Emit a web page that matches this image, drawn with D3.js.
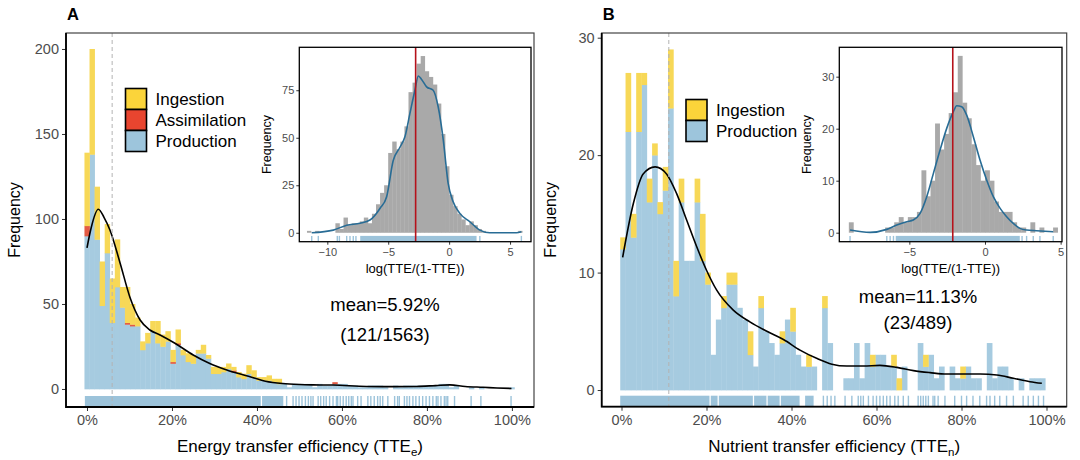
<!DOCTYPE html>
<html>
<head>
<meta charset="utf-8">
<script src="https://cdn.jsdelivr.net/npm/d3@7"></script>
<style>
  body { margin: 0; background: #fff; }
  svg text { font-family: 'Liberation Sans', Arial, sans-serif; }
</style>
</head>
<body>
<svg id="chart" width="1080" height="460"></svg>
<script>
// ---------- panel A : energy transfer efficiency (%) ----------
const binWidthA = 100 / 84
const prodA = [90, 138, 88, 49, 80, 39, 60, 48, 38, 37, 37, 23, 27, 34, 27, 25, 28, 15, 26, 20,
  16, 15, 21, 21, 18, 9, 9, 10, 12, 10, 7, 6, 9, 7, 5, 5, 5, 4, 3, 3,
  1, 3, 3, 3, 3, 1, 3, 2, 2, 3, 3, 3, 2, 2, 1, 1, 2, 2, 2, 1,
  0, 2, 1, 2, 2, 2, 2, 2, 2, 2, 3, 3, 1, 2, 0, 0, 1, 0, 1, 0,
  0, 0, 0, 0, 1]
const asmA = [6, 0, 0, 0, 0, 0, 0, 0, 1, 1, 0, 0, 0, 0, 0, 0, 0, 1, 1, 0,
  0, 0, 0, 0, 0, 0, 0, 0, 0, 1, 0, 0, 0, 0, 0, 0, 0, 0, 0, 0,
  0, 0, 0, 0, 0, 0, 0, 0, 0, 1]
const ingA = [43, 62, 31, 26, 17, 26, 28, 12, 21, 12, 5, 5, 6, 6, 13, 7, 6, 7, 8, 3,
  5, 5, 2, 5, 2, 4, 4, 3, 3, 2, 3, 3, 5, 4, 2, 2, 3, 2, 3]
const densXA = [0, 1, 2.66, 4, 5.4, 7.8, 10.1, 12.5, 14.8, 17.2, 20.7, 25, 28.9, 32.9, 38, 42,
  46, 50, 53.3, 57.9, 65.8, 72, 77.6, 82, 85.4, 89, 93.2, 96.5, 99.9]
const densYA = [83, 95, 105.7, 101, 93.5, 74, 54, 40.6, 34.7, 31.8, 26.9, 20, 15, 11.2, 7.5, 4.6,
  3.2, 2.6, 2.4, 2.3, 1.5, 1.4, 1.5, 2.0, 2.4, 1.5, 1.0, 0.6, 0.3]
const rugBlocksA = [[-0.5, 40.9], [41.2, 46.2]]
const rugA = [46.98, 48.5, 49.2, 49.9, 50.6, 51.4, 52.1, 52.7, 53.2, 54.4, 55.0, 55.7, 56.3, 57.1,
  57.9, 58.7, 59.0, 59.6, 60.3, 61.0, 61.6, 62.2, 62.6, 63.7, 64.5, 66.1, 66.8, 67.6, 68.4, 69.0,
  69.6, 70.8, 72.4, 73.1, 73.5, 74.7, 75.3, 75.9, 76.7, 77.4, 78.2, 79.0, 79.8, 80.6, 81.4, 82.2,
  82.6, 83.3, 84.1, 84.5, 84.9, 86.5, 90.4, 92.7, 99.8]
const meanA = 5.92
const labelA = ['mean=5.92%', '(121/1563)']

// inset A : logit of TTE
const insetStartA = -11.67
const insetWidthA = 1 / 3
const insetCountsA = [1, 0, 1, 0, 0, 0, 0, 5, 2, 8, 4, 5, 5, 6, 8, 5, 10, 15, 21, 25, 42, 48, 44,
  48, 56, 74, 79, 89, 93, 85, 82, 78, 68, 52, 35, 20, 14, 10, 7, 4, 6, 4, 2, 1, 0, 0, 0, 0, 0, 0,
  0, 0, 1]
const insetDensXA = [-11.28, -9.51, -8.41, -7.32, -6.5, -5.68, -5.13, -4.59, -4.04, -3.63, -3.22,
  -2.81, -2.53, -2.26, -1.85, -1.31, -0.9, -0.48, -0.08, 0.33, 0.88, 1.7, 2.52, 3.34, 5.52, 5.93]
const insetDensYA = [0, 1.4, 4, 5, 6.7, 12.8, 19, 38, 45, 50.5, 62.8, 75, 82.5, 80.7, 76.8, 75,
  66.3, 48.8, 26, 16.3, 10.2, 5.8, 1.4, 0, 0, 0.5]
const insetRugBlocksA = [[-7.3, 2.25]]
const insetRugA = [-11.28, -10.74, -9.18, -9.01, -8.41, -8.14, -7.87, -7.65, 2.52, 5.93]
const insetMeanA = -2.75

// ---------- panel B : nutrient transfer efficiency (%) ----------
const binWidthB = 1.25
const binStartB = -0.3
const prodB = [12, 22, 13, 22, 26, 16, 20, 15, 17, 24, 8, 16, 11, 11, 16, 11, 9, 3, 6, 7,
  9, 9, 7, 6, 3, 2, 7, 5, 4, 3, 4, 6, 5, 3, 2, 2, 2, 0, 7, 4,
  0, 0, 1, 1, 4, 1, 4, 2, 3, 3, 2, 2, 0, 2, 0, 0, 4, 2, 3, 1,
  2, 0, 2, 1, 1, 2, 1, 1, 0, 4, 1, 2, 2, 1, 0, 1, 0, 1, 1, 1]
const ingB = [1, 5, 2, 5, 1, 2, 1, 1, 2, 5, 3, 2, 0, 0, 2, 4, 1, 0, 0, 1,
  1, 1, 0, 0, 2, 0, 1, 0, 0, 0, 1, 0, 2, 0, 0, 1, 0, 0, 1, 0,
  0, 0, 0, 0, 0, 0, 0, 1, 0, 0, 0, 1, 1, 0, 0, 0, 0, 1, 0, 0,
  0, 0, 0, 0, 1]
const densXB = [0.27, 2.8, 5.1, 7.9, 10.6, 13, 15.3, 17.7, 20, 22.4, 26.3, 30.2, 34.2, 38.1, 42,
  45.9, 49.5, 53, 56.9, 60.8, 64.8, 68.7, 72.6, 76.5, 80.4, 84.4, 88.3, 92.2, 96.1, 98.9]
const densYB = [11.3, 15.9, 18.4, 19.0, 18.4, 16.7, 14.5, 12.2, 10.2, 8.5, 6.8, 5.8, 5.0, 4.3, 3.4,
  2.7, 2.2, 2.04, 2.04, 2.1, 1.93, 1.65, 1.48, 1.36, 1.36, 1.36, 1.28, 1.0, 0.71, 0.57]
const rugBlocksB = [[-0.3, 20.7], [21.0, 22.6], [22.9, 30.9], [31.2, 34.1], [34.4, 37.2],
  [37.5, 41.9], [43.2, 45.2]]
const rugB = [47.5, 48.4, 49.3, 50.2, 52.6, 54.2, 55.7, 56.3, 56.9, 58.1, 59.2, 60.0, 60.8, 61.6,
  62.4, 63.2, 64.3, 65.1, 66.3, 67.5, 69.8, 70.4, 71.0, 71.6, 72.2, 73.3, 73.7, 74.5, 76.1, 78.4,
  80.0, 81.2, 82.7, 84.3, 85.9, 86.7, 87.8, 89.0, 90.6, 92.2, 94.5, 95.7, 96.9, 98.1, 99.3]
const meanB = 11.13
const labelB = ['mean=11.13%', '(23/489)']

// inset B
const insetStartB = -9.6
const insetWidthB = 0.3
const insetCountsB = [0, 0, 2, 0, 0, 0, 0, 0, 0, 0, 1, 1, 2, 3, 2, 3, 3, 4, 12, 7, 10, 21, 16,
  19, 23, 27, 34, 25, 22, 17, 13, 10, 12, 10, 6, 4, 4, 4, 2, 1, 1, 0, 2, 0, 1, 0, 0, 1]
const insetDensXB = [-8.92, -7.6, -6.49, -5.83, -5.17, -4.74, -4.29, -3.85, -3.41, -2.97, -2.53,
  -2.09, -1.87, -1.54, -1.21, -0.77, -0.33, 0.11, 0.55, 1.0, 1.43, 1.87, 2.31, 2.75, 3.41, 4.51]
const insetDensYB = [0.51, 0.06, 0.64, 1.47, 2.12, 2.44, 3.72, 6.92, 11.41, 15.9, 20.06, 23.27,
  24.42, 24.23, 22.6, 18.46, 13.97, 10.13, 6.92, 4.68, 3.08, 1.79, 0.83, 0.51, 0.38, 0.19]
const insetRugBlocksB = [[-5.9, 2.3]]
const insetRugB = [-8.92, -6.49, -6.27, -6.05, 2.45, 2.75, 3.19, 3.63, 4.51]
const insetMeanB = -2.13

const xTicksMain = [0, 20, 40, 60, 80, 100]
const colors = { Production: '#a6cbe0', Assimilation: '#e25a44', Ingestion: '#f7d857' }
const keyColors = { Production: '#9dc5dc', Assimilation: '#e8452f', Ingestion: '#fbd43a' }
const rugColor = '#9cc3da'
const overlap = 0.35 // hides the anti-aliased seams between neighbouring bars
const svg = d3.select('#chart')

/**
 * Draws the rug (dense stretches as blocks, sparse values as single ticks).
 */
function drawRug (g, x, bottom, len, blocks, ticks) {
  g.append('g').selectAll('rect')
    .data(blocks)
    .enter()
    .append('rect')
    .attr('x', d => x(d[0]))
    .attr('width', d => x(d[1]) - x(d[0]))
    .attr('y', bottom - len)
    .attr('height', len)
    .attr('fill', rugColor)
  g.append('g').selectAll('line')
    .data(ticks)
    .enter()
    .append('line')
    .attr('x1', d => x(d))
    .attr('x2', d => x(d))
    .attr('y1', bottom - len)
    .attr('y2', bottom)
    .attr('stroke', rugColor)
    .attr('stroke-width', 1.4)
}

/**
 * Main stacked histogram panel.
 */
function drawMain (cfg) {
  const b = cfg.box
  const g = svg.append('g')
  const x = d3.scaleLinear().domain(cfg.xDomain).range([b.left, b.right])
  const y = d3.scaleLinear().domain(cfg.yDomain).range([b.bottom, b.top])

  const rows = cfg.prod.map((p, i) => {
    const r = { i: i, Production: p, Ingestion: cfg.ing[i] || 0 }
    if (cfg.asm) r.Assimilation = cfg.asm[i] || 0
    return r
  })
  const layers = d3.stack().keys(cfg.keys)(rows)
  const left = i => cfg.binStart + i * cfg.binWidth

  g.selectAll('.layer')
    .data(layers)
    .enter()
    .append('g')
    .attr('fill', d => colors[d.key])
    .selectAll('rect')
    .data(d => d.filter(s => s[1] > s[0]))
    .enter()
    .append('rect')
    .attr('x', d => x(left(d.data.i)))
    .attr('width', d => x(left(d.data.i) + cfg.binWidth) - x(left(d.data.i)) + overlap)
    .attr('y', d => y(d[1]))
    .attr('height', d => y(d[0]) - y(d[1]) + overlap)

  // density curve
  const line = d3.line().curve(d3.curveMonotoneX)
    .x(d => x(d[0])).y(d => y(d[1]))
  g.append('path')
    .datum(d3.zip(cfg.densX, cfg.densY))
    .attr('d', line)
    .attr('fill', 'none')
    .attr('stroke', '#000')
    .attr('stroke-width', 1.6)

  drawRug(g, x, b.bottom, 11, cfg.rugBlocks, cfg.rug)

  // mean
  g.append('line')
    .attr('x1', x(cfg.mean)).attr('x2', x(cfg.mean))
    .attr('y1', b.top).attr('y2', b.bottom)
    .attr('stroke', '#b3b3b3')
    .attr('stroke-width', 1)
    .attr('stroke-dasharray', '4,3')

  // axes
  g.append('g')
    .attr('transform', `translate(${b.left},0)`)
    .call(d3.axisLeft(y).tickValues(cfg.yTicks).tickSize(4).tickPadding(3))
    .call(a => a.select('.domain').remove())
    .call(a => a.selectAll('text').attr('fill', '#4d4d4d').style('font-size', '14.5px'))
    .call(a => a.selectAll('line').attr('stroke', '#333'))
  g.append('g')
    .attr('transform', `translate(0,${b.bottom})`)
    .call(d3.axisBottom(x).tickValues(xTicksMain).tickSize(4).tickPadding(4).tickFormat(d => d + '%'))
    .call(a => a.select('.domain').remove())
    .call(a => a.selectAll('text').attr('fill', '#4d4d4d').style('font-size', '14.5px'))
    .call(a => a.selectAll('line').attr('stroke', '#333'))

  g.append('rect')
    .attr('x', b.left).attr('y', b.top)
    .attr('width', b.right - b.left).attr('height', b.bottom - b.top)
    .attr('fill', 'none').attr('stroke', '#444').attr('stroke-width', 1.2)
  g.append('path')
    .attr('d', `M${b.left},${b.top}V${b.bottom}H${b.right}`)
    .attr('fill', 'none').attr('stroke', '#000').attr('stroke-width', 1.8)

  // titles
  g.append('text')
    .attr('transform', `translate(${b.left - 46},${(b.top + b.bottom) / 2}) rotate(-90)`)
    .attr('text-anchor', 'middle')
    .style('font-size', '16px')
    .text('Frequency')
  const xt = g.append('text')
    .attr('x', (b.left + b.right) / 2).attr('y', 452)
    .attr('text-anchor', 'middle')
    .style('font-size', '17px')
  xt.append('tspan').text(cfg.xTitle)
  xt.append('tspan').attr('dy', 4).style('font-size', '11.5px').text(cfg.xSub)
  xt.append('tspan').attr('dy', -4).text(')')
  g.append('text')
    .attr('x', b.left + 1).attr('y', 20)
    .style('font-size', '16.5px').style('font-weight', 'bold')
    .text(cfg.tag)

  // mean label
  g.selectAll('.meanlab')
    .data(cfg.label)
    .enter()
    .append('text')
    .attr('x', cfg.labelX)
    .attr('y', (d, i) => cfg.labelY + i * cfg.labelGap)
    .attr('text-anchor', 'middle')
    .style('font-size', '18.5px')
    .text(d => d)

  // legend (top to bottom)
  const legendKeys = cfg.keys.slice().reverse()
  const lg = g.append('g').attr('transform', `translate(${cfg.legend[0]},${cfg.legend[1]})`)
  lg.selectAll('rect')
    .data(legendKeys)
    .enter()
    .append('rect')
    .attr('x', 0).attr('y', (d, i) => i * 21)
    .attr('width', 21).attr('height', 21)
    .attr('fill', d => keyColors[d])
    .attr('stroke', '#000').attr('stroke-width', 1.6)
  lg.selectAll('text')
    .data(legendKeys)
    .enter()
    .append('text')
    .attr('x', 30).attr('y', (d, i) => i * 21 + 16.5)
    .style('font-size', '17px')
    .text(d => d)
}

/**
 * Inset histogram of logit(TTE).
 */
function drawInset (cfg) {
  const b = cfg.box
  const g = svg.append('g')
  const x = d3.scaleLinear().domain(cfg.xDomain).range([b.left, b.right])
  const y = d3.scaleLinear().domain(cfg.yDomain).range([b.bottom, b.top])

  g.append('rect')
    .attr('x', b.left).attr('y', b.top)
    .attr('width', b.right - b.left).attr('height', b.bottom - b.top)
    .attr('fill', '#fff')

  const left = i => cfg.start + i * cfg.width
  g.append('g').selectAll('rect')
    .data(cfg.counts.map((c, i) => ({ i: i, c: c })).filter(d => d.c > 0))
    .enter()
    .append('rect')
    .attr('x', d => x(left(d.i)))
    .attr('width', d => x(left(d.i) + cfg.width) - x(left(d.i)) + overlap)
    .attr('y', d => y(d.c))
    .attr('height', d => y(0) - y(d.c))
    .attr('fill', '#a9a9a9')

  g.append('path')
    .datum(d3.zip(cfg.densX, cfg.densY))
    .attr('d', d3.line().curve(d3.curveMonotoneX).x(d => x(d[0])).y(d => y(d[1])))
    .attr('fill', 'none')
    .attr('stroke', '#286c95')
    .attr('stroke-width', 1.6)

  drawRug(g, x, b.bottom, 5.8, cfg.rugBlocks, cfg.rug)

  g.append('line')
    .attr('x1', x(cfg.mean)).attr('x2', x(cfg.mean))
    .attr('y1', b.top).attr('y2', b.bottom)
    .attr('stroke', '#b5121b')
    .attr('stroke-width', 1.6)

  g.append('g')
    .attr('transform', `translate(${b.left},0)`)
    .call(d3.axisLeft(y).tickValues(cfg.yTicks).tickSize(3).tickPadding(2))
    .call(a => a.select('.domain').remove())
    .call(a => a.selectAll('text').attr('fill', '#4d4d4d').style('font-size', '11px'))
    .call(a => a.selectAll('line').attr('stroke', '#333'))
  g.append('g')
    .attr('transform', `translate(0,${b.bottom})`)
    .call(d3.axisBottom(x).tickValues(cfg.xTicks).tickSize(3).tickPadding(4))
    .call(a => a.select('.domain').remove())
    .call(a => a.selectAll('text').attr('fill', '#4d4d4d').style('font-size', '11px'))
    .call(a => a.selectAll('line').attr('stroke', '#333'))

  g.append('rect')
    .attr('x', b.left).attr('y', b.top)
    .attr('width', b.right - b.left).attr('height', b.bottom - b.top)
    .attr('fill', 'none').attr('stroke', '#000').attr('stroke-width', 1.3)

  g.append('text')
    .attr('transform', `translate(${b.left - 28},${(b.top + b.bottom) / 2}) rotate(-90)`)
    .attr('text-anchor', 'middle')
    .style('font-size', '12.5px')
    .text('Frequency')
  g.append('text')
    .attr('x', (b.left + b.right) / 2).attr('y', 273)
    .attr('text-anchor', 'middle')
    .style('font-size', '13px')
    .text('log(TTE/(1-TTE))')
}

drawMain({
  tag: 'A',
  box: { left: 66, right: 534, top: 33, bottom: 407 },
  xDomain: [-4.94, 105.2],
  yDomain: [-10.6, 209.4],
  yTicks: [0, 50, 100, 150, 200],
  keys: ['Production', 'Assimilation', 'Ingestion'],
  prod: prodA,
  asm: asmA,
  ing: ingA,
  binStart: -binWidthA / 2,
  binWidth: binWidthA,
  densX: densXA,
  densY: densYA,
  rugBlocks: rugBlocksA,
  rug: rugA,
  mean: meanA,
  label: labelA,
  labelX: 385,
  labelY: 311,
  labelGap: 30,
  legend: [125.5, 88.5],
  xTitle: 'Energy transfer efficiency (TTE',
  xSub: 'e'
})

drawMain({
  tag: 'B',
  box: { left: 601.7, right: 1066.7, top: 33, bottom: 406.7 },
  xDomain: [-4.66, 104.75],
  yDomain: [-1.42, 30.4],
  yTicks: [0, 10, 20, 30],
  keys: ['Production', 'Ingestion'],
  prod: prodB,
  ing: ingB,
  binStart: binStartB,
  binWidth: binWidthB,
  densX: densXB,
  densY: densYB,
  rugBlocks: rugBlocksB,
  rug: rugB,
  mean: meanB,
  label: labelB,
  labelX: 918,
  labelY: 303,
  labelGap: 26,
  legend: [686, 99.5],
  xTitle: 'Nutrient transfer efficiency (TTE',
  xSub: 'n'
})

drawInset({
  box: { left: 299.3, right: 531, top: 47.3, bottom: 241.7 },
  xDomain: [-12.3, 6.72],
  yDomain: [-4.7, 97.6],
  xTicks: [-10, -5, 0, 5],
  yTicks: [0, 25, 50, 75],
  start: insetStartA,
  width: insetWidthA,
  counts: insetCountsA,
  densX: insetDensXA,
  densY: insetDensYA,
  rugBlocks: insetRugBlocksA,
  rug: insetRugA,
  mean: insetMeanA
})

drawInset({
  box: { left: 839.3, right: 1062, top: 47.3, bottom: 241.7 },
  xDomain: [-9.63, 5.09],
  yDomain: [-1.73, 35.65],
  xTicks: [-5, 0, 5],
  yTicks: [0, 10, 20, 30],
  start: insetStartB,
  width: insetWidthB,
  counts: insetCountsB,
  densX: insetDensXB,
  densY: insetDensYB,
  rugBlocks: insetRugBlocksB,
  rug: insetRugB,
  mean: insetMeanB
})
</script>
</body>
</html>
